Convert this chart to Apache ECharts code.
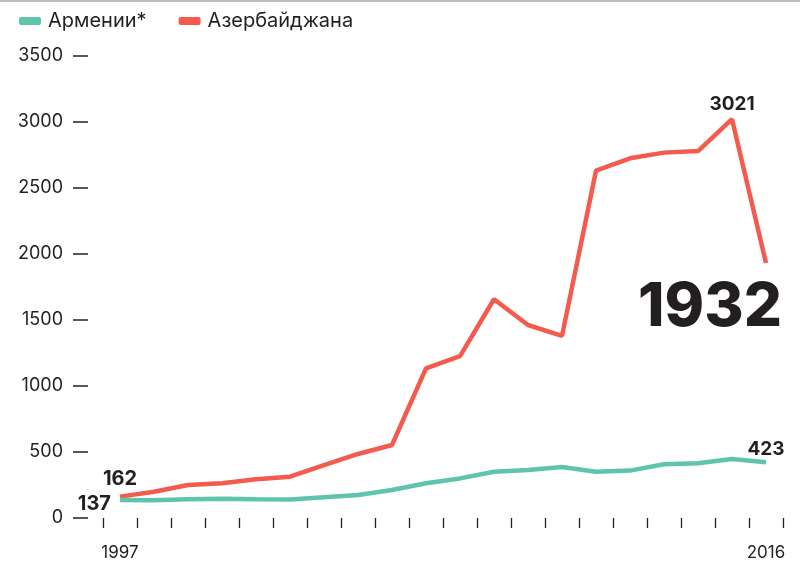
<!DOCTYPE html>
<html>
<head>
<meta charset="utf-8">
<script src="https://cdn.jsdelivr.net/npm/echarts@6/dist/echarts.min.js"></script>
<style>
  html, body { margin: 0; padding: 0; background: #fff; }
  #chart { width: 807px; height: 563px; }
</style>
</head>
<body>
<div id="chart"></div>
<script>
// годы
var years = ['1997','1998','1999','2000','2001','2002','2003','2004','2005','2006',
             '2007','2008','2009','2010','2011','2012','2013','2014','2015','2016'];
// Армения*
var armenia = [137, 135, 142, 145, 142, 140, 157, 174, 212, 263,
               300, 351, 364, 386, 351, 359, 407, 414, 447, 423];
// Азербайджан
var azerbaijan = [162, 199, 250, 263, 293, 313, 400, 485, 553, 1134,
                  1227, 1657, 1462, 1380, 2631, 2725, 2768, 2780, 3021, 1932];
var yTicks = [0, 500, 1000, 1500, 2000, 2500, 3000, 3500];

var textColor = '#231f20';
var fontFam = 'Inter, Roboto, sans-serif';

// подписи на отдельных точках
function withLabels(values, labels) {
  return values.map(function (v, i) {
    if (labels[i]) return { value: v, label: Object.assign({ show: true }, labels[i]) };
    return v;
  });
}

var armeniaData = withLabels(armenia, {
  0: { position: 'left', distance: 9, offset: [0, 4], fontSize: 20 },
  19: { position: 'top', distance: 5, offset: [0, 2], fontSize: 19 }
});
var azerData = withLabels(azerbaijan, {
  0: { position: 'top', distance: 8, fontSize: 20 },
  18: { position: 'top', distance: 5, fontSize: 19 },
  19: { position: 'bottom', distance: 15, offset: [-56, 0], fontSize: 60, fontWeight: 800 }
});

var chart = echarts.init(document.getElementById('chart'));
var labelBase = { color: textColor, fontFamily: fontFam, fontWeight: 'bold', formatter: '{c}' };

chart.setOption({
  animation: false,
  backgroundColor: '#fff',
  graphic: [{
    type: 'line', shape: { x1: 0, y1: 1, x2: 800, y2: 1 },
    style: { stroke: '#a8a8a8', lineWidth: 1.5 }
  }],
  legend: {
    left: 14, top: 6,
    itemWidth: 22, itemHeight: 8, itemGap: 32,
    icon: 'roundRect',
    textStyle: { fontSize: 20, color: textColor, fontFamily: fontFam, padding: [0, 0, 0, 2] },
    data: ['Армении*', 'Азербайджана']
  },
  grid: { left: 103, right: 24, top: 56, bottom: 45 },
  xAxis: {
    type: 'category',
    data: years,
    boundaryGap: true,
    axisLine: { show: false },
    axisTick: { show: true, interval: 0, length: 10, lineStyle: { color: textColor, width: 1.3 } },
    axisLabel: {
      color: textColor, fontSize: 17, fontFamily: fontFam, margin: 26,
      interval: function (i) { return i === 0 || i === years.length - 1; }
    },
    splitLine: { show: false }
  },
  yAxis: {
    type: 'value',
    min: yTicks[0], max: yTicks[yTicks.length - 1], interval: 500,
    offset: 15,
    axisLine: { show: false },
    axisTick: { show: true, length: 15, lineStyle: { color: textColor, width: 1.5 } },
    axisLabel: {
      color: textColor, fontSize: 18, fontFamily: fontFam, margin: 25,
      formatter: function (v) { return String(v); }
    },
    splitLine: { show: false }
  },
  series: [{
    name: 'Армении*',
    type: 'line',
    data: armeniaData,
    color: '#5ec4ad',
    lineStyle: { width: 4.5, color: '#5ec4ad' },
    symbol: 'circle', symbolSize: 0, showSymbol: true, showAllSymbol: true,
    label: Object.assign({ show: false }, labelBase),
    z: 3
  }, {
    name: 'Азербайджана',
    type: 'line',
    data: azerData,
    color: '#f25b4d',
    lineStyle: { width: 4.5, color: '#f25b4d' },
    symbol: 'circle', symbolSize: 0, showSymbol: true, showAllSymbol: true,
    label: Object.assign({ show: false }, labelBase),
    z: 2
  }]
});
</script>
</body>
</html>
